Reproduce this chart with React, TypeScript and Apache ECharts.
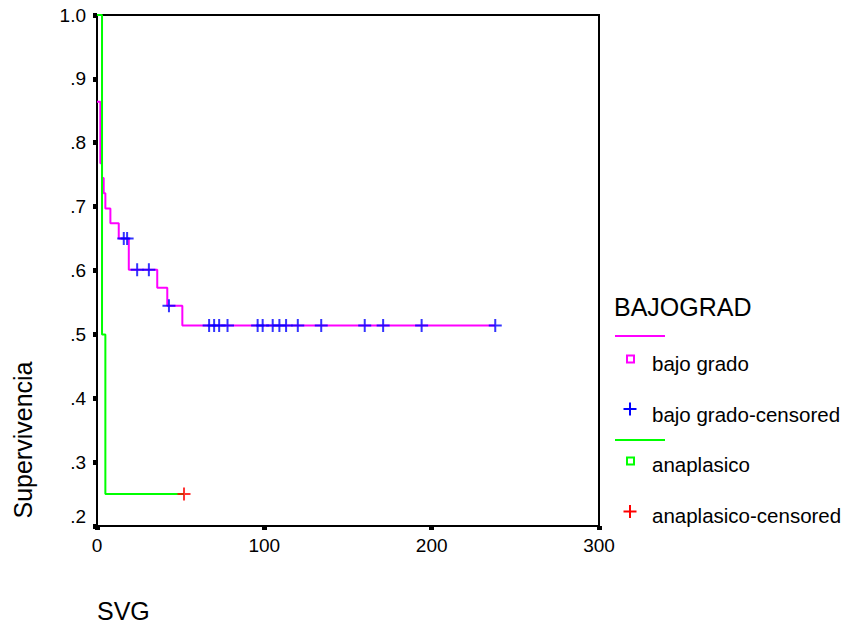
import React, { useEffect, useRef } from "react";
import * as echarts from "echarts";

// Kaplan-Meier survival, "bajo grado" group: event times and survival after each step
const bajoTimes = [0, 2, 3, 4, 5, 8, 13, 19, 36, 42, 51, 238];
const bajoSurv = [0.864, 0.768, 0.745, 0.721, 0.697, 0.674, 0.65, 0.601, 0.573, 0.545, 0.514, 0.514];
const bajoCensored = [16, 18, 24, 31, 43, 67, 70, 73, 78, 96, 99, 105, 109, 113, 120, 134, 160, 171, 194, 238];

// "anaplasico" group
const anaTimes = [0, 3, 5, 52];
const anaSurv = [1.0, 0.5, 0.25, 0.25];
const anaCensored = [52];

const xTicks = [0, 100, 200, 300];
const yTicks = [0.2, 0.3, 0.4, 0.5, 0.6, 0.7, 0.8, 0.9, 1.0];

const FONT = 'Arial, "Liberation Sans", sans-serif';
const PINK = "#ff00ff";
const GREEN = "#00ff00";
const BLUE = "#0000ff";
const RED = "#ff0000";

function survAt(times: number[], surv: number[], t: number): number {
  let s = surv[0];
  for (let i = 0; i < times.length; i++) {
    if (times[i] <= t) s = surv[i];
  }
  return s;
}

const PLUS = "path://M0,5.5H5.5V0H7.5V5.5H13V7.5H7.5V13H5.5V7.5H0Z";

function plus(cx: number, cy: number, color: string) {
  return {
    type: "group",
    children: [
      { type: "line", shape: { x1: cx - 6.5, y1: cy, x2: cx + 6.5, y2: cy }, style: { stroke: color, lineWidth: 2 } },
      { type: "line", shape: { x1: cx, y1: cy - 6.5, x2: cx, y2: cy + 6.5 }, style: { stroke: color, lineWidth: 2 } },
    ],
  };
}

function legendText(text: string, x: number, y: number, size: number) {
  return {
    type: "text",
    x,
    y,
    style: { text, fontSize: size, fontFamily: FONT, fill: "#000", align: "left", verticalAlign: "middle" },
  };
}

export default function App() {
  const ref = useRef<HTMLDivElement>(null);

  useEffect(() => {
    if (!ref.current) return;
    const chart = echarts.init(ref.current, null, { renderer: "svg" });

    const axisCommon = {
      type: "value",
      axisLine: { show: true, lineStyle: { color: "#000", width: 2 } },
      axisTick: { show: true, length: 4, lineStyle: { color: "#000", width: 5 } },
      splitLine: { show: false },
    };

    chart.setOption({
      animation: false,
      backgroundColor: "#fff",
      grid: {
        left: 97,
        right: 248,
        top: 15,
        bottom: 107,
        show: true,
        borderColor: "#000",
        borderWidth: 2,
        backgroundColor: "transparent",
      },
      xAxis: {
        ...axisCommon,
        min: xTicks[0],
        max: xTicks[xTicks.length - 1],
        interval: 100,
        axisLabel: { color: "#000", fontSize: 19, fontFamily: FONT, margin: 10 },
      },
      yAxis: {
        ...axisCommon,
        min: yTicks[0],
        max: yTicks[yTicks.length - 1],
        interval: 0.1,
        axisLabel: {
          color: "#000",
          fontSize: 19,
          fontFamily: FONT,
          margin: 11,
          verticalAlignMinLabel: "bottom",
          formatter: (v: number) => {
            const s = v.toFixed(1);
            return s.startsWith("0") ? s.slice(1) : s;
          },
        },
      },
      series: [
        {
          name: "bajo grado",
          type: "line",
          step: "end",
          clip: false,
          symbol: "none",
          lineStyle: { color: PINK, width: 2 },
          data: bajoTimes.map((t, i) => [t, bajoSurv[i]]),
          z: 2,
        },
        {
          name: "bajo grado-censored",
          type: "scatter",
          clip: false,
          symbol: PLUS,
          symbolSize: 13,
          itemStyle: { color: BLUE },
          data: bajoCensored.map((t) => [t, survAt(bajoTimes, bajoSurv, t)]),
          z: 3,
        },
        {
          name: "anaplasico",
          type: "line",
          step: "end",
          clip: false,
          symbol: "none",
          lineStyle: { color: GREEN, width: 2 },
          data: anaTimes.map((t, i) => [t, anaSurv[i]]),
          z: 4,
        },
        {
          name: "anaplasico-censored",
          type: "scatter",
          clip: false,
          symbol: PLUS,
          symbolSize: 13,
          itemStyle: { color: RED },
          data: anaCensored.map((t) => [t, survAt(anaTimes, anaSurv, t)]),
          z: 5,
        },
      ],
      graphic: [
        {
          type: "text",
          x: 23,
          y: 440,
          rotation: Math.PI / 2,
          style: { text: "Supervivencia", fontSize: 25, fontFamily: FONT, fill: "#000", align: "center", verticalAlign: "middle" },
        },
        {
          type: "text",
          x: 97,
          y: 611,
          style: { text: "SVG", fontSize: 25, fontFamily: FONT, fill: "#000", align: "left", verticalAlign: "middle" },
        },
        legendText("BAJOGRAD", 614, 307, 25),
        { type: "line", shape: { x1: 615, y1: 336, x2: 665, y2: 336 }, style: { stroke: PINK, lineWidth: 2 } },
        { type: "rect", shape: { x: 627, y: 355.5, width: 7, height: 7 }, style: { stroke: PINK, lineWidth: 2, fill: "none" } },
        legendText("bajo grado", 652, 363, 20.5),
        plus(630, 409, BLUE),
        legendText("bajo grado-censored", 652, 414, 20.5),
        { type: "line", shape: { x1: 615, y1: 440, x2: 665, y2: 440 }, style: { stroke: GREEN, lineWidth: 2 } },
        { type: "rect", shape: { x: 627, y: 457.5, width: 7, height: 7 }, style: { stroke: GREEN, lineWidth: 2, fill: "none" } },
        legendText("anaplasico", 652, 464, 20.5),
        plus(630, 511.5, RED),
        legendText("anaplasico-censored", 652, 515, 20.5),
      ],
    });

    return () => chart.dispose();
  }, []);

  return (
    <div
      ref={ref}
      style={{ position: "fixed", left: 0, top: 0, width: 847, height: 633, background: "#fff" }}
    />
  );
}
